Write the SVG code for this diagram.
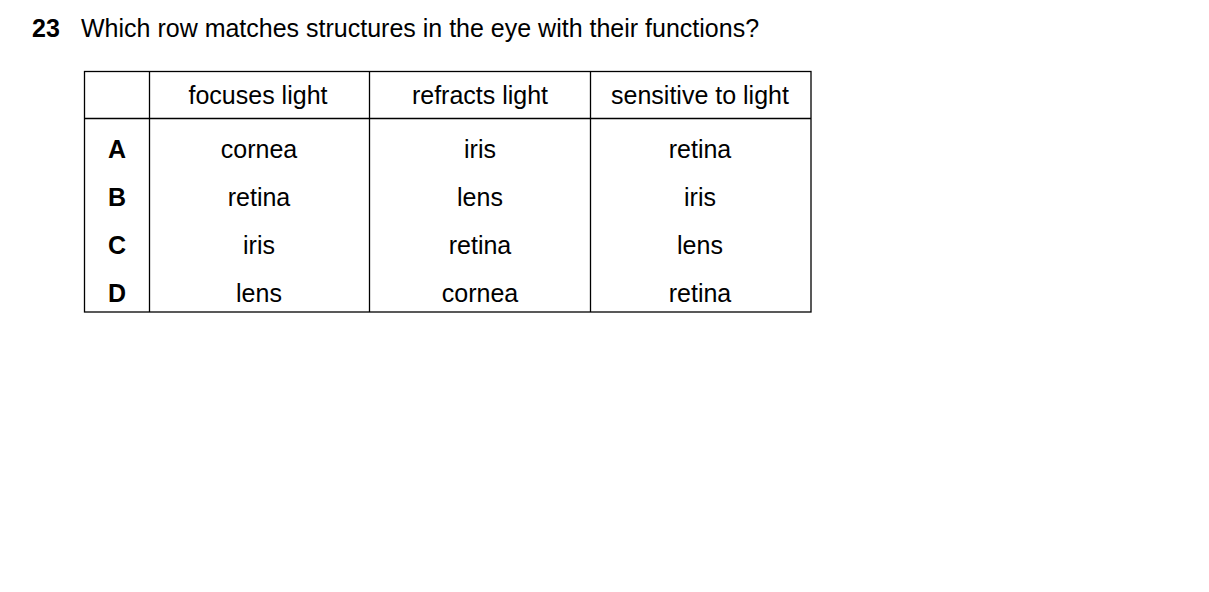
<svg xmlns="http://www.w3.org/2000/svg" width="1209" height="592" viewBox="0 0 1209 592">
<style>
text{font-family:"Liberation Sans",Arial,sans-serif;font-size:25px;fill:#000}
.c{text-anchor:middle}
.b{font-weight:bold}
.t line,.t rect{stroke:#000;stroke-width:1.3;fill:none}
</style>
<rect width="1209" height="592" fill="#fff"/>
<text x="32" y="37" class="b">23</text>
<text x="81" y="37">Which row matches structures in the eye with their functions?</text>
<g class="t">
<rect x="84.5" y="71.5" width="726.5" height="240.5"/>
<line x1="84.5" y1="118.5" x2="811" y2="118.5"/>
<line x1="149.5" y1="71.5" x2="149.5" y2="312"/>
<line x1="369.5" y1="71.5" x2="369.5" y2="312"/>
<line x1="590.5" y1="71.5" x2="590.5" y2="312"/>
</g>
<text x="258" y="104" class="c">focuses light</text>
<text x="480" y="104" class="c">refracts light</text>
<text x="700" y="104" class="c">sensitive to light</text>
<text x="117" y="158" class="c b">A</text><text x="259" y="158" class="c">cornea</text><text x="480" y="158" class="c">iris</text><text x="700" y="158" class="c">retina</text>
<text x="117" y="206" class="c b">B</text><text x="259" y="206" class="c">retina</text><text x="480" y="206" class="c">lens</text><text x="700" y="206" class="c">iris</text>
<text x="117" y="254" class="c b">C</text><text x="259" y="254" class="c">iris</text><text x="480" y="254" class="c">retina</text><text x="700" y="254" class="c">lens</text>
<text x="117" y="302" class="c b">D</text><text x="259" y="302" class="c">lens</text><text x="480" y="302" class="c">cornea</text><text x="700" y="302" class="c">retina</text>
</svg>
